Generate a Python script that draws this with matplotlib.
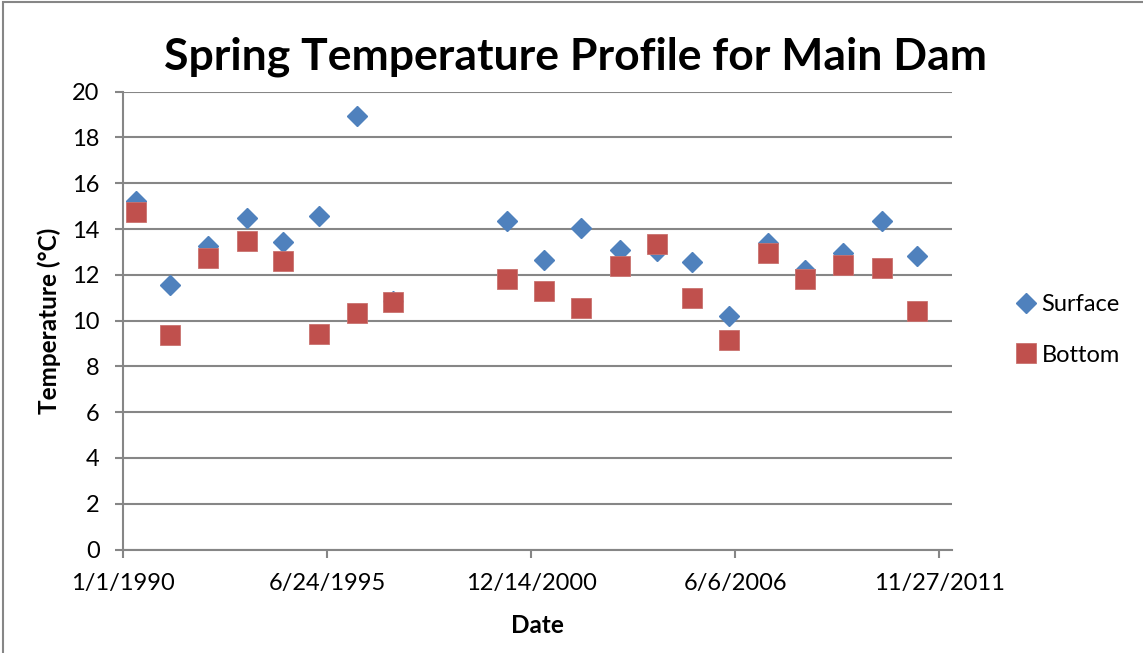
import datetime as dt
import matplotlib
matplotlib.use("Agg")
import matplotlib.pyplot as plt
import matplotlib.dates as mdates
from matplotlib.patches import Rectangle

# spring sampling dates
dates = ["1990-05-02", "1991-04-06", "1992-04-07", "1993-05-01", "1994-04-12",
         "1995-04-03", "1996-04-10", "1997-04-01", "2000-04-17", "2001-04-17",
         "2002-04-14", "2003-05-05", "2004-04-25", "2005-04-09", "2006-04-07",
         "2007-04-25", "2008-04-21", "2009-04-23", "2010-05-10", "2011-04-24"]
surface = [15.24, 11.57, 13.27, 14.47, 13.42, 14.59, 18.94, 10.87, 14.35, 12.65,
           14.03, 13.09, 13.05, 12.58, 10.22, 13.38, 12.23, 12.94, 14.34, 12.84]
bottom = [14.73, 9.38, 12.72, 13.48, 12.62, 9.42, 10.34, 10.80, 11.83, 11.30,
          10.55, 12.39, 13.35, 10.97, 9.17, 12.97, 11.80, 12.45, 12.30, 10.42]
tick_dates = ["1990-01-01", "1995-06-24", "2000-12-14", "2006-06-06", "2011-11-27"]

x = [dt.datetime.fromisoformat(d) for d in dates]
ticks = [dt.datetime.fromisoformat(d) for d in tick_dates]

plt.rcParams['font.family'] = ['Lato', 'DejaVu Sans']

fig = plt.figure(figsize=(11.43, 6.53), dpi=100)
ax = fig.add_axes([123.3 / 1143, 1 - 549.5 / 653, (951.7 - 123.3) / 1143, (549.5 - 91.7) / 653])

grid_col = '#868686'
ax.plot(x, surface, linestyle='none', marker='D', markersize=9.8, color='#4F81BD',
        markeredgecolor='#4F81BD', label='Surface', zorder=3)
ax.plot(x, bottom, linestyle='none', marker='s', markersize=14.2, color='#C0504D',
        markeredgecolor='#C9726F', markeredgewidth=0.6, label='Bottom', zorder=4)

ax.set_ylim(0, 20)
ax.set_yticks(range(0, 21, 2))
ax.set_xlim(ticks[0], ticks[-1] + dt.timedelta(days=122))
ax.set_xticks(ticks)
ax.xaxis.set_major_formatter(
    matplotlib.ticker.FuncFormatter(lambda v, p: "{d.month}/{d.day}/{d.year}".format(d=mdates.num2date(v))))

ax.grid(axis='y', color=grid_col, linewidth=1.5)
ax.set_axisbelow(True)
for s in ['top', 'right']:
    ax.spines[s].set_visible(False)
for s in ['left', 'bottom']:
    ax.spines[s].set_color(grid_col)
    ax.spines[s].set_linewidth(1.5)
ax.tick_params(axis='y', length=6, width=1.5, color=grid_col, pad=11, labelsize=17)
ax.tick_params(axis='x', length=6, width=1.5, color=grid_col, pad=11, labelsize=17)

ax.set_ylabel('Temperature (°C)', fontsize=17.5, fontweight='bold', labelpad=8)
ax.set_xlabel('Date', fontsize=17.5, fontweight='bold', labelpad=14)
fig.text(576 / 1143, 1 - 57 / 653, 'Spring Temperature Profile for Main Dam',
         fontsize=32, fontweight='bold', ha='center', va='center')

ax.legend(loc='center left', bbox_to_anchor=(1012 / 1143, 1 - 330 / 653),
          bbox_transform=fig.transFigure, frameon=False, fontsize=17,
          handletextpad=0.05, labelspacing=1.25, borderaxespad=0, borderpad=0, handlelength=1.2)

# chart-area border
fig.patches.append(Rectangle((3 / 1143, -0.01), 1.02, 1 - 2 / 653 + 0.01, transform=fig.transFigure,
                             fill=False, edgecolor=grid_col, linewidth=1.5))

fig.savefig('out.png', dpi=100)
